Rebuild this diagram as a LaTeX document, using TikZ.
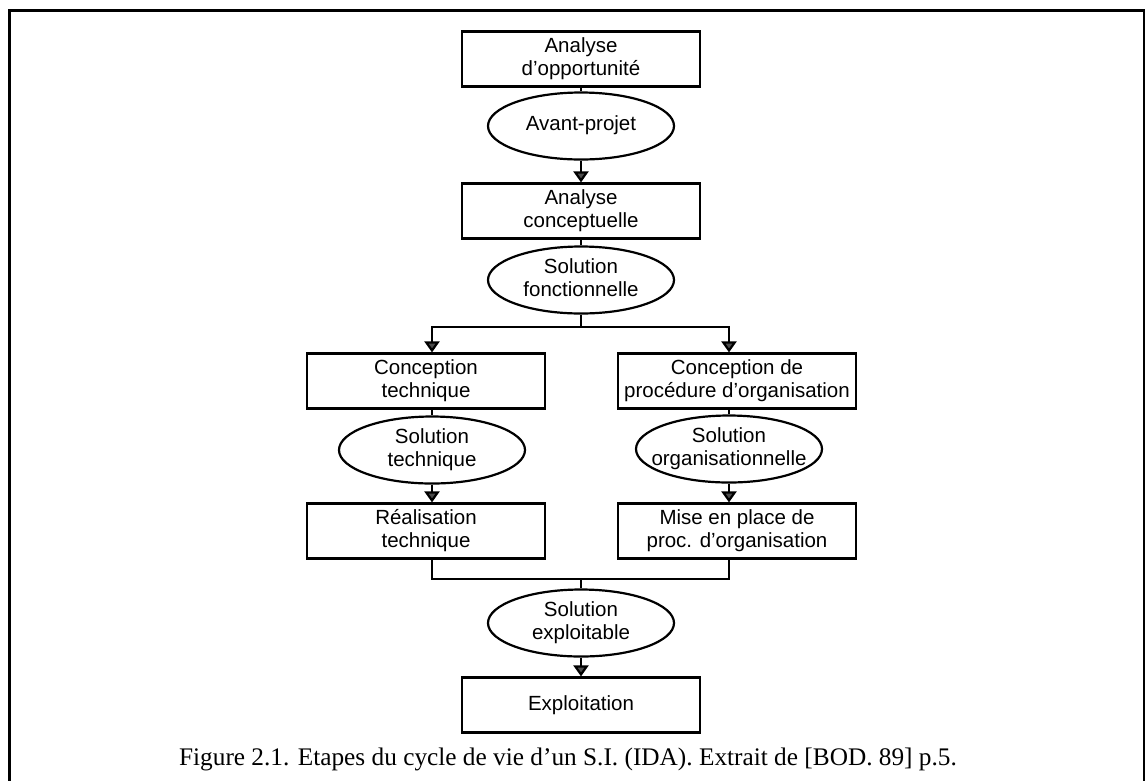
\documentclass[tikz,border=0pt]{standalone}
\usepackage{fontspec}
\setmainfont{Liberation Sans}
\newfontfamily\capfont{Liberation Serif}
\usetikzlibrary{shapes.geometric,arrows.meta,calc}
\newcommand\ovtxt[1]{\makebox[0pt]{\begin{tabular}{@{}c@{}}#1\end{tabular}}}
\begin{document}
\begin{tikzpicture}[x=1pt,y=-1pt,
  every node/.style={font=\fontsize{20.5}{23}\selectfont},
  stepbox/.style={draw, line width=2.2pt, minimum width=238pt, minimum height=55pt, inner sep=0pt, align=center},
  oval/.style={draw, ellipse, line width=2.2pt, minimum width=186pt, minimum height=67pt, inner sep=0pt},
  link/.style={line width=2.2pt},
  arr/.style={line width=2.2pt, -{Triangle[width=15pt,length=11pt,fill=black!70]}},
  frame/.style={line width=3pt}
]
\useasboundingbox (0,0) rectangle (1145,780);
\draw[frame] (9,10) rectangle (1144,800);

\node[stepbox] (b1) at (581,59) {Analyse\\d'opportunité};
\node[oval] (e1) at (581,126) {\ovtxt{Avant-projet}};
\node[stepbox] (b2) at (581,211) {Analyse\\conceptuelle};
\node[oval] (e2) at (581,280) {\ovtxt{Solution\\fonctionnelle}};
\coordinate (split) at (581,327);
\node[stepbox] (ct) at (426,381) {Conception\\technique};
\node[stepbox] (co) at (737,381) {Conception de\\procédure d'organisation};
\node[oval] (el) at (432,450) {\ovtxt{Solution\\technique}};
\node[oval] (er) at (729,449) {\ovtxt{Solution\\organisationnelle}};
\node[stepbox] (rt) at (426,531) {Réalisation\\technique};
\node[stepbox] (mp) at (737,531) {Mise en place de\\proc. d'organisation};
\coordinate (join) at (581,579);
\node[oval] (e3) at (581,623) {\ovtxt{Solution\\exploitable}};
\node[stepbox] (ex) at (581,705) {Exploitation};

\draw[link] (b1) -- (e1);
\draw[arr] (e1) -- (b2);
\draw[link] (b2) -- (e2);
\draw[link] (e2) -- (split);
\draw[arr] (split) -| (el |- ct.north);
\draw[arr] (split) -| (er |- co.north);
\draw[link] (el |- ct.south) -- (el);
\draw[arr] (el) -- (el |- rt.north);
\draw[link] (er |- co.south) -- (er);
\draw[arr] (er) -- (er |- mp.north);
\draw[link] (el |- rt.south) |- (join) -| (er |- mp.south);
\draw[link] (join) -- (e3);
\draw[arr] (e3) -- (ex);

\node[font=\capfont\fontsize{25.3}{29}\selectfont, anchor=base] (cap) at (568,765)
  {Figure 2.1. Etapes du cycle de vie d’un S.I. (IDA). Extrait de [BOD. 89] p.5.};
\end{tikzpicture}
\end{document}
